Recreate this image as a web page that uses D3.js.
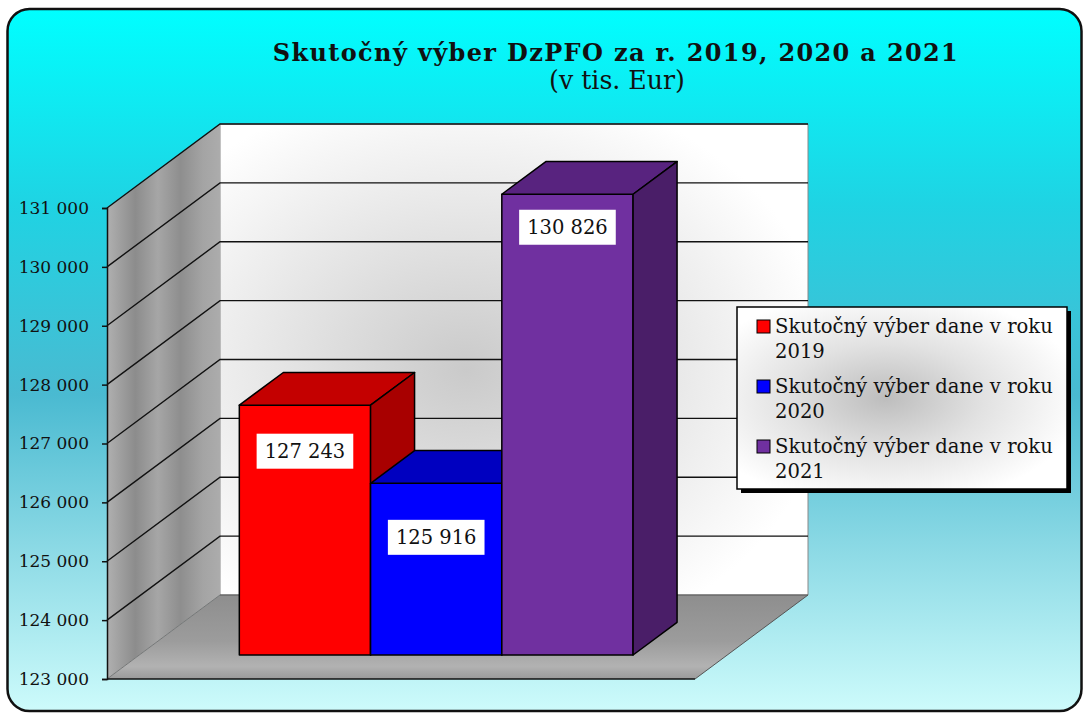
<!DOCTYPE html>
<html>
<head>
<meta charset="utf-8">
<script src="https://d3js.org/d3.v7.min.js"></script>
<style>
	body { margin: 0; background: #fff; }
	text { font-family: "DejaVu Serif", "Liberation Serif", serif; fill: #111; }
</style>
</head>
<body>
<div id="chart"></div>
<script>
	// data
	var years = ["2019", "2020", "2021"];
	var values = [127243, 125916, 130826];
	var legendLabels = ["Skutočný výber dane v roku 2019", "Skutočný výber dane v roku 2020", "Skutočný výber dane v roku 2021"];
	var yTicks = [123000, 124000, 125000, 126000, 127000, 128000, 129000, 130000, 131000];
	var title = "Skutočný výber DzPFO za r. 2019, 2020 a 2021";
	var subtitle = "(v tis. Eur)";

	// styles
	var frontColors = ["#ff0000", "#0000ff", "#7030a0"];
	var topColors = ["#c40000", "#0000c0", "#58237f"];
	var sideColors = ["#a80000", "#00009a", "#4a1e68"];
	var labelDy = [46, 54, 33];

	var width = 1083, height = 713;
	var X0 = 107, Y0 = 679, YT = 208, W = 588, DX = 113, DY = -84;
	var d0 = 0.2857, d1 = 0.675;

	var fmt = d3.formatLocale({decimal: ",", thousands: " ", grouping: [3], currency: ["", " €"]}).format(",d");

	var svg = d3.select("#chart").append("svg")
		.attr("width", width)
		.attr("height", height);

	var defs = svg.append("defs");

	function stops(grad, list) {
		list.forEach(function(s) {
			grad.append("stop").attr("offset", s[0]).attr("stop-color", s[1]);
		});
	}

	stops(defs.append("linearGradient").attr("id", "bg").attr("x1", 0).attr("y1", 0).attr("x2", 0).attr("y2", 1),
		[[0, "#00ffff"], [0.28, "#1fd3e3"], [0.55, "#4abad1"], [0.78, "#8fdbe6"], [1, "#cdfbfb"]]);
	stops(defs.append("radialGradient").attr("id", "wall").attr("cx", "42%").attr("cy", "52%").attr("r", "62%"),
		[[0, "#cacaca"], [0.45, "#e2e2e2"], [1, "#ffffff"]]);
	stops(defs.append("linearGradient").attr("id", "side")
		.attr("gradientUnits", "userSpaceOnUse")
		.attr("x1", X0).attr("y1", 0).attr("x2", X0 + DX).attr("y2", 0),
		[[0, "#b0b0b0"], [0.25, "#8c8c8c"], [0.45, "#a6a6a6"], [0.65, "#8e8e8e"], [0.85, "#a4a4a4"], [1, "#acacac"]]);
	stops(defs.append("linearGradient").attr("id", "floor").attr("x1", 0).attr("y1", 0).attr("x2", 0).attr("y2", 1),
		[[0, "#8e8e8e"], [0.55, "#9c9c9c"], [0.85, "#b2b2b2"], [1, "#9a9a9a"]]);
	stops(defs.append("radialGradient").attr("id", "leg").attr("cx", "45%").attr("cy", "50%").attr("r", "60%"),
		[[0, "#bdbdbd"], [0.5, "#e2e2e2"], [1, "#ffffff"]]);

	// background
	svg.append("rect")
		.attr("x", 7.5).attr("y", 9)
		.attr("width", 1074).attr("height", 702)
		.attr("rx", 22)
		.attr("fill", "url(#bg)")
		.attr("stroke", "#111")
		.attr("stroke-width", 2.5);

	// title
	function fitText(sel, target) {
		var size = parseFloat(sel.style("font-size"));
		var w = sel.node().getComputedTextLength();
		sel.style("font-size", (size * target / w) + "px");
	}
	function spreadText(sel, target) {
		var w = sel.node().getComputedTextLength();
		var n = sel.text().length;
		sel.style("letter-spacing", ((target - w) / (n - 1)) + "px");
	}
	var t1 = svg.append("text")
		.attr("x", 616).attr("y", 61)
		.attr("text-anchor", "middle")
		.style("font-size", "24px")
		.style("font-weight", "bold")
		.text(title);
	spreadText(t1, 685);
	var t2 = svg.append("text")
		.attr("x", 617).attr("y", 89)
		.attr("text-anchor", "middle")
		.style("font-size", "21px")
		.text(subtitle);
	fitText(t2, 136);

	// 3D frame
	var y = d3.scaleLinear().domain([yTicks[0], yTicks[yTicks.length - 1]]).range([Y0, YT]);
	var x = d3.scaleBand().domain(years).range([X0, X0 + W]).paddingInner(0).paddingOuter(0.74).align(0.515);
	var vMin = yTicks[0], vMax = yTicks[yTicks.length - 1];

	function P(px, v, d) { return [px + DX * d, y(v) + DY * d]; }
	function poly(pts) { return "M" + pts.map(function(p) { return p[0] + "," + p[1]; }).join("L") + "Z"; }

	svg.append("path")
		.attr("d", poly([P(X0, vMin, 1), P(X0 + W, vMin, 1), P(X0 + W, vMax, 1), P(X0, vMax, 1)]))
		.attr("fill", "url(#wall)")
		.attr("stroke", "#888").attr("stroke-width", 1);

	svg.append("path")
		.attr("d", poly([P(X0, vMin, 0), P(X0, vMin, 1), P(X0, vMax, 1), P(X0, vMax, 0)]))
		.attr("fill", "url(#side)");

	svg.append("path")
		.attr("d", poly([P(X0, vMin, 0), P(X0 + W, vMin, 0), P(X0 + W, vMin, 1), P(X0, vMin, 1)]))
		.attr("fill", "url(#floor)");
	svg.append("line")
		.attr("x1", P(X0, vMin, 0)[0]).attr("y1", P(X0, vMin, 0)[1])
		.attr("x2", P(X0, vMin, 1)[0]).attr("y2", P(X0, vMin, 1)[1])
		.attr("stroke", "#777").attr("stroke-width", 1);
	svg.append("line")
		.attr("x1", P(X0 + W, vMin, 0)[0]).attr("y1", P(X0 + W, vMin, 0)[1])
		.attr("x2", P(X0 + W, vMin, 1)[0]).attr("y2", P(X0 + W, vMin, 1)[1])
		.attr("stroke", "#555").attr("stroke-width", 1);

	// gridlines
	var grid = svg.append("g").attr("stroke", "#111").attr("stroke-width", 1.4).attr("fill", "none");
	yTicks.forEach(function(t) {
		if (t > vMin) {
			grid.append("path").attr("d", "M" + P(X0, t, 0) + "L" + P(X0, t, 1) + "L" + P(X0 + W, t, 1));
		}
	});
	grid.append("line")
		.attr("x1", P(X0, vMin, 1)[0]).attr("y1", P(X0, vMin, 1)[1])
		.attr("x2", P(X0 + W, vMin, 1)[0]).attr("y2", P(X0 + W, vMin, 1)[1])
		.attr("stroke", "#555").attr("stroke-width", 1);
	grid.append("line")
		.attr("x1", P(X0, vMin, 0)[0]).attr("y1", P(X0, vMin, 0)[1])
		.attr("x2", P(X0 + W, vMin, 0)[0]).attr("y2", P(X0 + W, vMin, 0)[1]);

	// bars
	var bars = svg.append("g").attr("stroke", "#000").attr("stroke-width", 1.5).attr("stroke-linejoin", "round");
	years.forEach(function(yr, i) {
		var xl = x(yr), xr = xl + x.bandwidth(), v = values[i];
		bars.append("path").attr("fill", frontColors[i])
			.attr("d", poly([P(xl, vMin, d0), P(xr, vMin, d0), P(xr, v, d0), P(xl, v, d0)]));
		bars.append("path").attr("fill", topColors[i])
			.attr("d", poly([P(xl, v, d0), P(xr, v, d0), P(xr, v, d1), P(xl, v, d1)]));
		bars.append("path").attr("fill", sideColors[i])
			.attr("d", poly([P(xr, v, d0), P(xr, v, d1), P(xr, vMin, d1), P(xr, vMin, d0)]));
	});

	// value labels
	years.forEach(function(yr, i) {
		var cx = x(yr) + x.bandwidth() / 2 + DX * d0;
		var cy = y(values[i]) + DY * d0 + labelDy[i];
		var g = svg.append("g");
		var box = g.append("rect").attr("fill", "#fff");
		var tx = g.append("text")
			.attr("x", cx).attr("y", cy)
			.attr("dy", "0.36em")
			.attr("text-anchor", "middle")
			.style("font-size", "19.5px")
			.text(fmt(values[i]));
		var w = tx.node().getComputedTextLength() + 16;
		box.attr("x", cx - w / 2).attr("y", cy - 17.5).attr("width", w).attr("height", 35);
	});

	// y axis
	var axis = svg.append("g")
		.attr("transform", "translate(" + X0 + ",0)")
		.call(d3.axisLeft(y).tickValues(yTicks).tickFormat(fmt).tickSize(5).tickPadding(13));
	axis.select(".domain").attr("stroke", "#111").attr("stroke-width", 1.5);
	axis.selectAll(".tick line").attr("stroke", "#111").attr("stroke-width", 1.5);
	axis.selectAll(".tick text")
		.style("font-family", "'DejaVu Serif', serif")
		.style("font-size", "17px")
		.attr("fill", "#111");

	// legend
	var lx = 737, ly = 307, lw = 330, lh = 182;
	svg.append("rect").attr("x", lx + 4).attr("y", ly + 4).attr("width", lw).attr("height", lh).attr("fill", "#000");
	svg.append("rect").attr("x", lx).attr("y", ly).attr("width", lw).attr("height", lh)
		.attr("fill", "url(#leg)").attr("stroke", "#000").attr("stroke-width", 1.5);
	var legSize = null;
	legendLabels.forEach(function(lab, i) {
		var cut = lab.lastIndexOf(" ");
		var by = ly + 26 + i * 60;
		svg.append("rect")
			.attr("x", 757).attr("y", by - 13)
			.attr("width", 13).attr("height", 13)
			.attr("fill", frontColors[i]).attr("stroke", "#000").attr("stroke-width", 1);
		var a = svg.append("text").attr("x", 775).attr("y", by).style("font-size", "18px").text(lab.slice(0, cut));
		if (legSize == null) {
			fitText(a, 278);
			legSize = a.style("font-size");
		}
		a.style("font-size", legSize);
		svg.append("text").attr("x", 775).attr("y", by + 25).style("font-size", legSize).text(lab.slice(cut + 1));
	});
</script>
</body>
</html>
